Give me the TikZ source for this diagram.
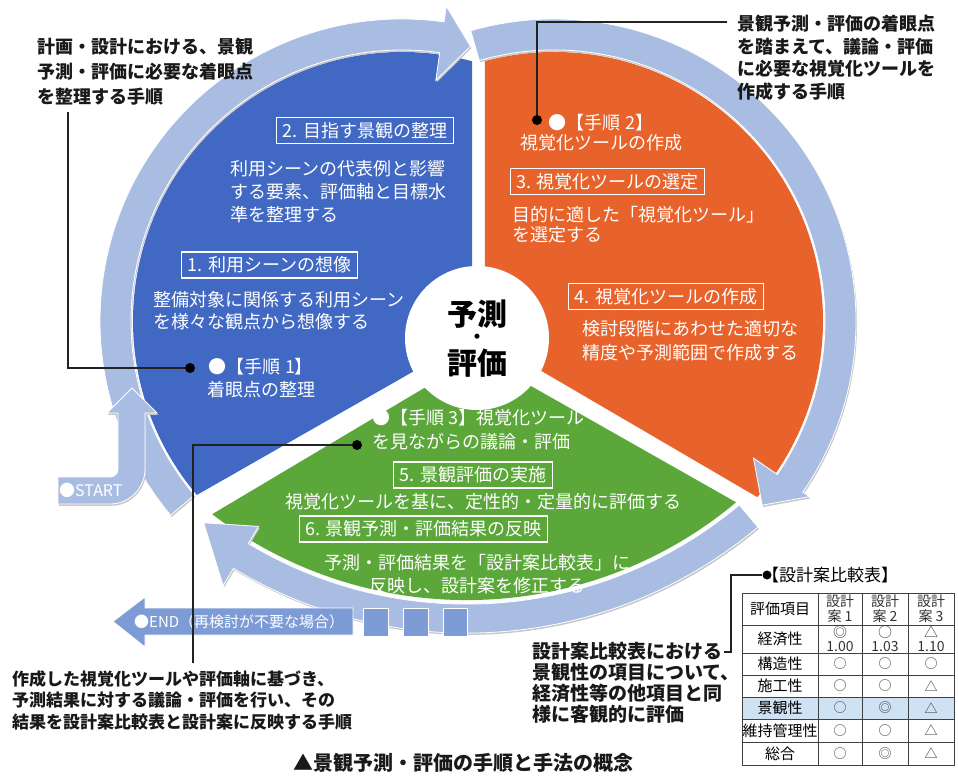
\documentclass[tikz,border=0pt]{standalone}
\usepackage{fontspec}
\setmainfont{Noto Sans CJK JP}
\usetikzlibrary{calc}
\definecolor{cblue}{HTML}{4169C4}
\definecolor{corange}{HTML}{E8632C}
\definecolor{cgreen}{HTML}{5BA73A}
\definecolor{cring}{HTML}{A9BDE3}
\definecolor{cend}{HTML}{7D9CD6}
\definecolor{chigh}{HTML}{CFE2F3}
\definecolor{cline}{HTML}{222222}
\begin{document}
\begin{tikzpicture}[x=1pt,y=-1pt,
  ringband/.style={fill=cring, draw=white, line width=0.8pt,
    preaction={fill=black!22, transform canvas={xshift=1pt, yshift=-1.8pt}}},
  endband/.style={fill=cend, draw=white, line width=0.8pt},
  wtext/.style={text=white, inner sep=0pt, font=\fontsize{18}{23}\selectfont},
  btext/.style={text=black!90, inner sep=0pt, font=\fontsize{18}{25}\selectfont\bfseries},
  stepbox/.style={draw=white, line width=1.1pt, text=white, inner xsep=6pt, inner ysep=3pt, minimum height=26pt, font=\fontsize{18}{22}\selectfont},
  leader/.style={draw=cline, line width=1.2pt},
  ldot/.style={circle, fill=black, inner sep=0pt, minimum size=10pt},
  ctext/.style={text=black, inner sep=0pt, font=\fontsize{30}{30}\selectfont\bfseries},
  tlabel/.style={inner sep=0pt, font=\fontsize{15}{16}\selectfont},
  tval/.style={inner sep=0pt, text=black!80, font=\fontsize{13}{14}\selectfont},
  tline/.style={draw=black!75, line width=0.8pt}
]
\useasboundingbox (0,0) rectangle (958,776);
\fill[white] (0,0) rectangle (958,776);

% sectors
\fill[cblue] (472,338) -- ([shift={(402,321)}]-74.9:269) arc[start angle=-74.9, end angle=-220.3, radius=269] -- cycle;
\fill[corange] (485,338) -- ([shift={(554,321)}]-104.9:269) arc[start angle=-104.9, end angle=40.9, radius=269] -- cycle;
\fill[cgreen] (478,356) -- ([shift={(466.7,180.1)}]127.3:420) arc[start angle=127.3, end angle=50.1, radius=420] -- cycle;

% ring bands
\fill[ringband] ([shift={(554,321)}]254:271) arc[start angle=254, end angle=394.5, radius=271]
  -- ([shift={(554,321)}]394.5:242) -- ([shift={(554,321)}]401.5:278) -- ([shift={(554,321)}]394.5:310)
  -- ([shift={(554,321)}]394.5:302) arc[start angle=394.5, end angle=254, radius=302] -- cycle;
\fill[ringband] ([shift={(466.7,180.1)}]50:424) arc[start angle=50, end angle=121, radius=424]
  -- ([shift={(466.7,180.1)}]121:404) -- ([shift={(466.7,180.1)}]127.5:432) -- ([shift={(466.7,180.1)}]121:473)
  -- ([shift={(466.7,180.1)}]121:453) arc[start angle=121, end angle=50, radius=453] -- cycle;
\fill[ringband] ([shift={(402,321)}]140:271) arc[start angle=140, end angle=278, radius=271]
  -- ([shift={(402,321)}]278:243) -- ([shift={(402,321)}]284:283) -- ([shift={(402,321)}]278:318)
  -- ([shift={(402,321)}]278:302) arc[start angle=278, end angle=140, radius=302] -- cycle;

% START arrow
\fill[ringband] (58,477) -- (110,477) arc[start angle=90, end angle=0, radius=8] -- (118,413) -- (107,413) -- (132,388)
  -- (157,413) -- (145,413) -- (145,469) arc[start angle=0, end angle=90, radius=35] -- (58,504) -- cycle;
\node[text=white, anchor=west, inner sep=0pt, font=\fontsize{16}{16}\selectfont] (starttxt) at (59,490) {●START};

% END arrow and squares
\fill[endband] (145,608) -- (353,608) -- (353,635) -- (145,635) -- (145,647) -- (113,621.5) -- (145,597) -- cycle;
\node[text=white, anchor=west, inner sep=0pt, font=\fontsize{15}{15}\selectfont] (endtxt) at (134,622) {●END（再検討が不要な場合）};
\fill[endband] (363,608) rectangle (388,636);
\fill[endband] (403,608) rectangle (428,636);
\fill[endband] (443,608) rectangle (467,636);

% centre
\fill[white] (477,338) circle[radius=72];
\node[ctext] (ctr1) at (477,314.5) {予測};
\node[text=black, inner sep=0pt, font=\fontsize{18}{18}\selectfont\bfseries] (ctrdot) at (477,339) {・};
\node[ctext] (ctr2) at (477,363.5) {評価};

% blue sector texts
\node[stepbox] (s2) at (365,130.5) {2. 目指す景観の整理};
\node[wtext, anchor=west, align=left] (t2) at (230,192) {利用シーンの代表例と影響\\する要素、評価軸と目標水\\準を整理する};
\node[stepbox] (s1) at (269.5,265) {1. 利用シーンの想像};
\node[wtext, anchor=west, align=left, font=\fontsize{18}{22}\selectfont] (t1) at (153,311) {整備対象に関係する利用シーン\\を様々な観点から想像する};
\node[wtext, align=center] (p1) at (261,378.5) {●【手順 1】\\着眼点の整理};

% orange sector texts
\node[wtext, align=center, font=\fontsize{18}{20}\selectfont] (p2) at (601,133) {●【手順 2】\\視覚化ツールの作成};
\node[stepbox] (s3) at (607.5,181.5) {3. 視覚化ツールの選定};
\node[wtext, anchor=west, align=left, font=\fontsize{18}{20}\selectfont] (t3) at (512,225) {目的に適した「視覚化ツール」\\を選定する};
\node[stepbox] (s4) at (666,296.5) {4. 視覚化ツールの作成};
\node[wtext, anchor=west, align=left, font=\fontsize{18}{24}\selectfont] (t4) at (582,341) {検討段階にあわせた適切な\\精度や予測範囲で作成する};

% green sector texts
\node[wtext, anchor=west, align=left, font=\fontsize{18}{24}\selectfont] (p3) at (372,430) {●【手順 3】視覚化ツール\\を見ながらの議論・評価};
\node[stepbox] (s5) at (473,475) {5. 景観評価の実施};
\node[wtext] (t5) at (483.5,502) {視覚化ツールを基に、定性的・定量的に評価する};
\node[stepbox] (s6) at (423.5,529) {6. 景観予測・評価結果の反映};
\node[wtext, align=center] (t6) at (477,574.5) {予測・評価結果を「設計案比較表」に\\反映し、設計案を修正する};

% annotations
\node[btext, anchor=west, align=left] (annoA) at (37,72) {計画・設計における、景観\\予測・評価に必要な着眼点\\を整理する手順};
\node[btext, anchor=west, align=left, font=\fontsize{18}{22.5}\selectfont\bfseries] (annoB) at (737,57.5) {景観予測・評価の着眼点\\を踏まえて、議論・評価\\に必要な視覚化ツールを\\作成する手順};
\node[btext, anchor=west, align=left, font=\fontsize{17}{21.5}\selectfont\bfseries] (annoC) at (12,700) {作成した視覚化ツールや評価軸に基づき、\\予測結果に対する議論・評価を行い、その\\結果を設計案比較表と設計案に反映する手順};
\node[btext, anchor=west, align=left, font=\fontsize{19}{21}\selectfont\bfseries] (annoD) at (532,683) {設計案比較表における\\景観性の項目について、\\経済性等の他項目と同\\様に客観的に評価};
\node[inner sep=0pt, text=black!90, font=\fontsize{20}{24}\selectfont\bfseries] (cap) at (463,763) {▲景観予測・評価の手順と手法の概念};

% leaders
\coordinate (la0) at (68,112); \coordinate (la1) at (68,368);
\node[ldot] (da) at (190,368) {};
\draw[leader] (la0) -- (la1) -- (da);
\coordinate (lb0) at (727,22); \coordinate (lb1) at (537,22);
\node[ldot] (db) at (537,120) {};
\draw[leader] (lb0) -- (lb1) -- (db);
\coordinate (lc0) at (193,663); \coordinate (lc1) at (193,445);
\node[ldot] (dc) at (357,445) {};
\draw[leader] (lc0) -- (lc1) -- (dc);
\coordinate (ld0) at (724,652); \coordinate (ld1) at (731,652); \coordinate (ld2) at (731,575);
\node[ldot, minimum size=9pt] (dd) at (767,575) {};
\draw[leader] (ld0) -- (ld1) -- (ld2) -- (dd);

% table
\node[inner sep=0pt, font=\fontsize{17}{17}\selectfont] (ttitle) at (830,575) {【設計案比較表】};
\fill[chigh] (742,697) rectangle (954,719);
\draw[tline] (742,593) rectangle (954,765);
\foreach \yy in {625,653,675,697,719,742} \draw[tline] (742,\yy) -- (954,\yy);
\foreach \xx in {818,862,908} \draw[tline] (\xx,593) -- (\xx,765);
\node[tlabel] (h0) at (780,609) {評価項目};
\node[tval, align=center, font=\fontsize{14}{15}\selectfont] (h1) at (840,609) {設計\\案 1};
\node[tval, align=center, font=\fontsize{14}{15}\selectfont] (h2) at (885,609) {設計\\案 2};
\node[tval, align=center, font=\fontsize{14}{15}\selectfont] (h3) at (931,609) {設計\\案 3};
\node[tlabel] (r1) at (780,639) {経済性};
\node[tlabel] (r2) at (780,664) {構造性};
\node[tlabel] (r3) at (780,686) {施工性};
\node[tlabel] (r4) at (780,708) {景観性};
\node[tlabel] (r5) at (780,730.5) {維持管理性};
\node[tlabel] (r6) at (780,753.5) {総合};
\node[tval, align=center, font=\fontsize{14}{14}\selectfont] (v11) at (840,639) {◎\\1.00};
\node[tval, align=center, font=\fontsize{14}{14}\selectfont] (v12) at (885,639) {○\\1.03};
\node[tval, align=center, font=\fontsize{14}{14}\selectfont] (v13) at (931,639) {△\\1.10};
\node[tval] (v21) at (840,664) {○}; \node[tval] (v22) at (885,664) {○}; \node[tval] (v23) at (931,664) {○};
\node[tval] (v31) at (840,686) {○}; \node[tval] (v32) at (885,686) {○}; \node[tval] (v33) at (931,686) {△};
\node[tval] (v41) at (840,708) {○}; \node[tval] (v42) at (885,708) {◎}; \node[tval] (v43) at (931,708) {△};
\node[tval] (v51) at (840,730.5) {○}; \node[tval] (v52) at (885,730.5) {○}; \node[tval] (v53) at (931,730.5) {△};
\node[tval] (v61) at (840,753.5) {○}; \node[tval] (v62) at (885,753.5) {◎}; \node[tval] (v63) at (931,753.5) {△};
\end{tikzpicture}
\end{document}
